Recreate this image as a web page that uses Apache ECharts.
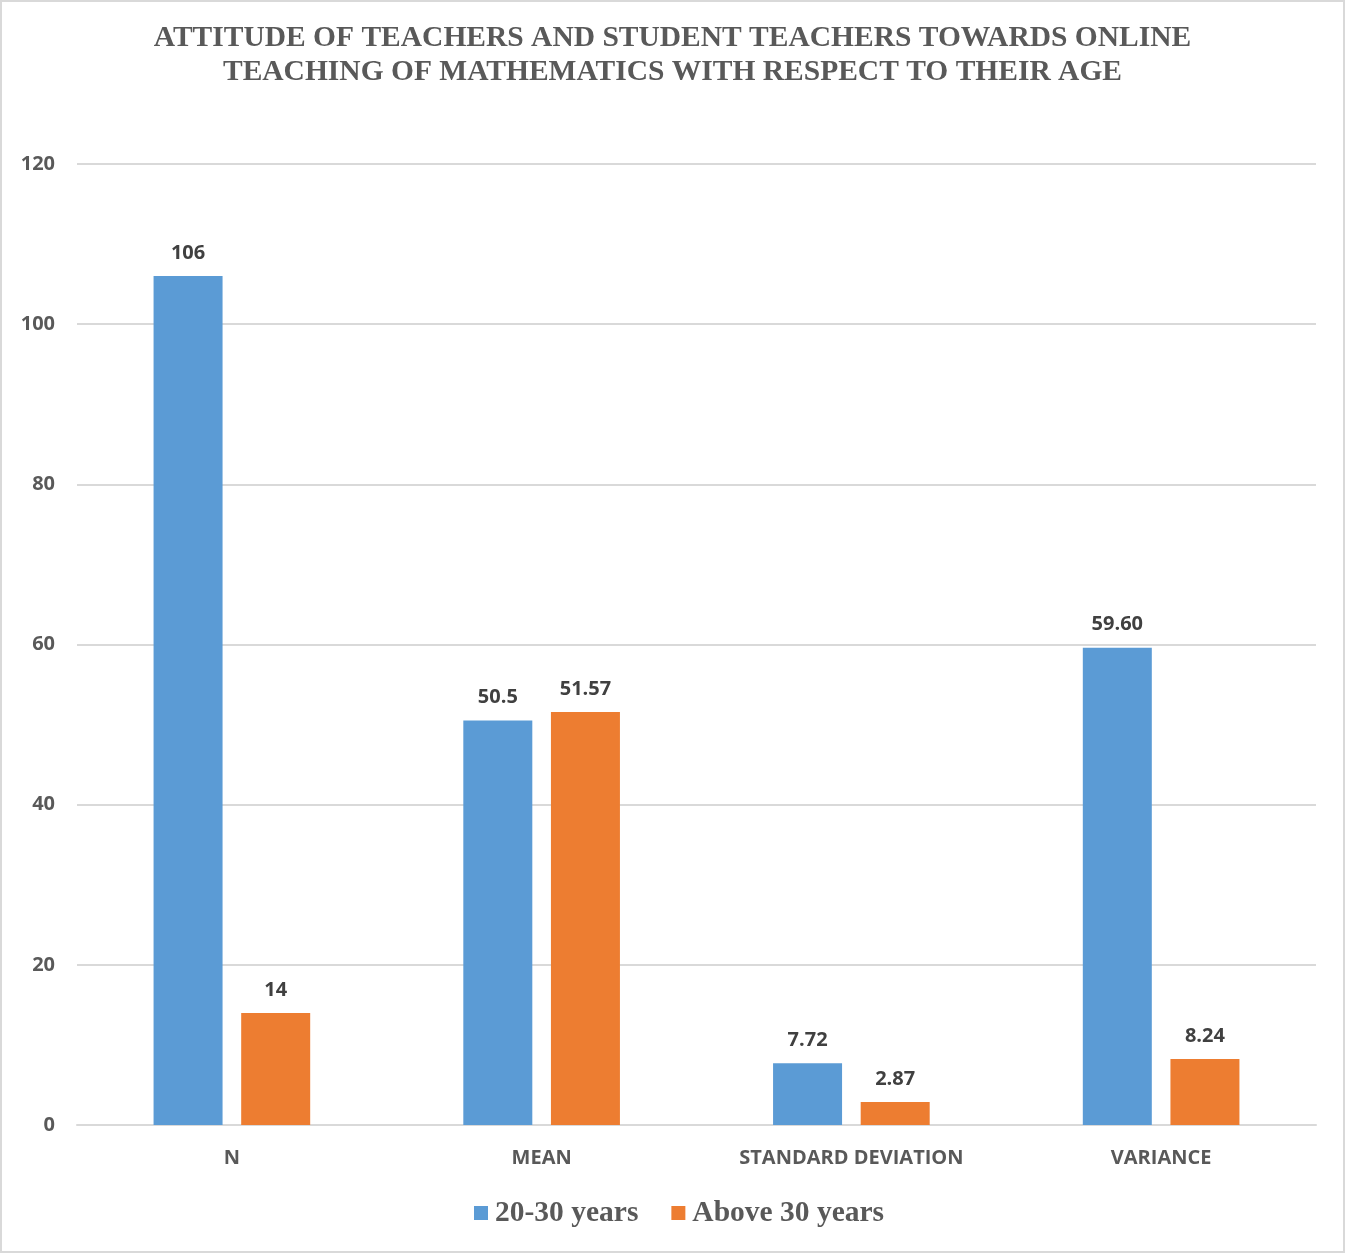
<!DOCTYPE html>
<html>
<head>
<meta charset="utf-8">
<script src="https://cdn.jsdelivr.net/npm/echarts@6/dist/echarts.min.js"></script>
<style>
html,body{margin:0;padding:0;background:#fff;}
#chart{width:1345px;height:1253px;box-sizing:border-box;border:2px solid #d9d9d9;}
</style>
</head>
<body>
<div id="chart"></div>
<script>
const categories = ['N', 'MEAN', 'STANDARD DEVIATION', 'VARIANCE'];
const age20to30 = [106, 50.5, 7.72, 59.60];
const above30 = [14, 51.57, 2.87, 8.24];
const labels20to30 = ['106', '50.5', '7.72', '59.60'];
const labelsAbove30 = ['14', '51.57', '2.87', '8.24'];
const seriesNames = ['20-30 years', 'Above 30 years'];

const chart = echarts.init(document.getElementById('chart'));
const sansFont = '"Open Sans", "Liberation Sans", sans-serif';
const serifFont = '"Liberation Serif", "DejaVu Serif", serif';
const labelStyle = (texts) => ({
  show: true,
  position: 'top',
  distance: 13,
  color: '#404040',
  fontFamily: sansFont,
  fontWeight: 'bold',
  fontSize: 20,
  formatter: p => texts[p.dataIndex]
});

chart.setOption({
  animation: false,
  title: {
    text: 'ATTITUDE OF TEACHERS AND STUDENT TEACHERS TOWARDS ONLINE\nTEACHING OF MATHEMATICS WITH RESPECT TO THEIR AGE',
    left: 'center',
    top: 14,
    textStyle: {
      color: '#595959',
      fontFamily: serifFont,
      fontWeight: 'bold',
      fontSize: 29.5,
      lineHeight: 34
    }
  },
  legend: {
    bottom: 18,
    left: 467,
    itemWidth: 14,
    itemHeight: 14,
    itemGap: 33,
    icon: 'rect',
    textStyle: {
      color: '#595959',
      fontFamily: serifFont,
      fontWeight: 'bold',
      fontSize: 29.5,
      padding: [0, 0, 0, 2]
    }
  },
  grid: {
    left: 75,
    right: 27,
    top: 162,
    bottom: 126,
    containLabel: false
  },
  xAxis: {
    type: 'category',
    data: categories,
    axisLine: { lineStyle: { color: '#d9d9d9', width: 2 } },
    axisTick: { show: false },
    axisLabel: {
      margin: 23,
      color: '#595959',
      fontFamily: sansFont,
      fontWeight: 'bold',
      fontSize: 20
    }
  },
  yAxis: {
    type: 'value',
    min: 0,
    max: 120,
    interval: 20,
    axisLine: { show: false },
    axisTick: { show: false },
    splitLine: { lineStyle: { color: '#d9d9d9', width: 2 } },
    axisLabel: {
      margin: 22,
      color: '#595959',
      fontFamily: sansFont,
      fontWeight: 'bold',
      fontSize: 20
    }
  },
  series: [
    {
      name: seriesNames[0],
      type: 'bar',
      data: age20to30,
      barWidth: 69,
      barGap: '27%',
      itemStyle: { color: '#5b9bd5' },
      label: labelStyle(labels20to30)
    },
    {
      name: seriesNames[1],
      type: 'bar',
      data: above30,
      barWidth: 69,
      itemStyle: { color: '#ed7d31' },
      label: labelStyle(labelsAbove30)
    }
  ]
});
</script>
</body>
</html>
